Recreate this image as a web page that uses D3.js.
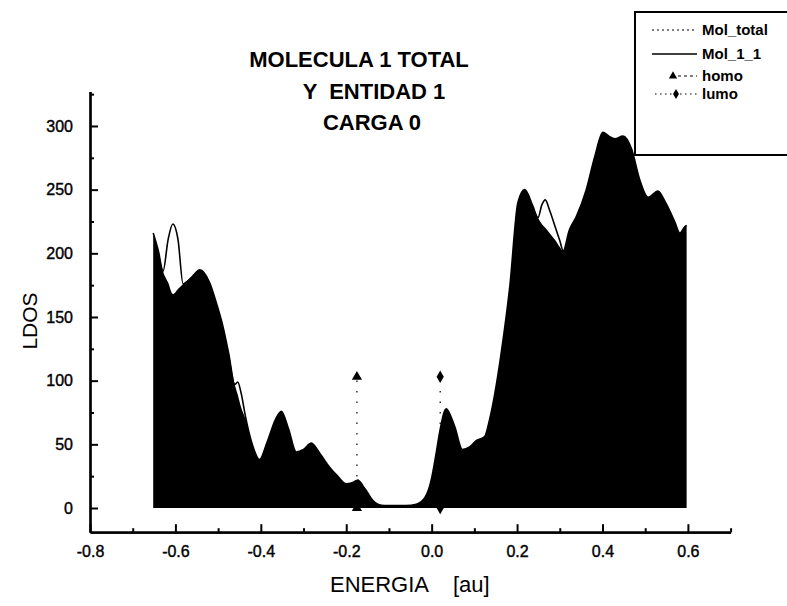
<!DOCTYPE html>
<html>
<head>
<meta charset="utf-8">
<script src="https://cdn.jsdelivr.net/npm/d3@7"></script>
<style>
  body { margin: 0; background: #fff; }
  svg { display: block; font-family: "Liberation Sans", Arial, sans-serif; }
</style>
</head>
<body>
<svg id="chart" width="787" height="606"></svg>
<script>
// Energy grid (au) and local density of states for each series
const energia = [-0.652, -0.640, -0.629, -0.617, -0.606, -0.594, -0.582, -0.560, -0.543, -0.520,
  -0.505, -0.489, -0.475, -0.461, -0.454, -0.446, -0.436, -0.420, -0.403, -0.385,
  -0.365, -0.352, -0.335, -0.317, -0.300, -0.282, -0.260, -0.239, -0.220, -0.200,
  -0.185, -0.173, -0.160, -0.150, -0.138, -0.126, -0.110, -0.060, -0.036, -0.016,
  -0.001, 0.010, 0.019, 0.034, 0.054, 0.072, 0.089, 0.105, 0.124, 0.136,
  0.148, 0.163, 0.183, 0.202, 0.218, 0.237, 0.249, 0.258, 0.266, 0.276,
  0.290, 0.300, 0.308, 0.322, 0.339, 0.362, 0.382, 0.401, 0.415, 0.429,
  0.448, 0.468, 0.487, 0.507, 0.530, 0.546, 0.569, 0.581, 0.593, 0.597];

const molTotal = [216, 202, 186, 177, 168, 172, 176, 182, 187, 177,
  162, 143, 121, 97, 89, 79, 70, 50, 38, 52,
  70, 76, 62, 44, 46, 51, 42, 32, 25, 19,
  20, 22, 17, 12, 6, 3, 2, 2, 3, 8,
  22, 42, 60, 78, 64, 46, 48, 53, 56, 70,
  90, 122, 174, 240, 250, 237, 228, 223, 220, 216,
  210, 205, 202, 218, 229, 250, 276, 295, 292, 290,
  292, 282, 258, 244, 249, 241, 225, 216, 221, 222];

const mol11 = [216, 202, 186, 211, 223, 211, 176, 182, 187, 177,
  162, 143, 121, 97, 99, 90, 72, 50, 38, 52,
  70, 76, 62, 44, 46, 51, 42, 32, 25, 19,
  20, 22, 17, 12, 6, 3, 2, 2, 3, 8,
  22, 42, 60, 78, 64, 46, 48, 53, 56, 70,
  90, 122, 174, 240, 250, 237, 228, 238, 242, 234,
  220, 210, 202, 218, 229, 250, 276, 295, 292, 290,
  292, 282, 258, 244, 249, 241, 225, 216, 221, 222];

// HOMO / LUMO levels: two points each (base and marker height)
const homoE = [-0.175, -0.175];
const homoV = [0, 103];
const lumoE = [0.02, 0.02];
const lumoV = [0, 103];

// Axis ticks and labels
const xMajor = [-0.8, -0.6, -0.4, -0.2, 0.0, 0.2, 0.4, 0.6];
const xLabels = ["-0.8", "-0.6", "-0.4", "-0.2", "0.0", "0.2", "0.4", "0.6"];
const xMinor = [-0.7, -0.5, -0.3, -0.1, 0.1, 0.3, 0.5, 0.7];
const yMajor = [0, 50, 100, 150, 200, 250, 300];
const yLabels = ["0", "50", "100", "150", "200", "250", "300"];
const yMinor = [25, 75, 125, 175, 225, 275, 325];

const titleLines = ["MOLECULA 1 TOTAL", "Y  ENTIDAD 1", "CARGA 0"];
const legendNames = ["Mol_total", "Mol_1_1", "homo", "lumo"];

const svg = d3.select("#chart");
const x = d3.scaleLinear().domain([-0.8, 0.7]).range([90, 730.6]);
const y = d3.scaleLinear().domain([-19, 327]).range([532.2, 91.6]);

const totalPts = energia.map((e, i) => [e, molTotal[i]]);
const mol11Pts = energia.map((e, i) => [e, mol11[i]]);

// Filled total LDOS
svg.append("path")
  .datum(totalPts)
  .attr("fill", "#000")
  .attr("d", d3.area().x(d => x(d[0])).y0(y(0)).y1(d => y(d[1])).curve(d3.curveMonotoneX));

// Entity LDOS outline
svg.append("path")
  .datum(mol11Pts)
  .attr("fill", "none")
  .attr("stroke", "#000")
  .attr("stroke-width", 1.6)
  .attr("d", d3.line().x(d => x(d[0])).y(d => y(d[1])).curve(d3.curveMonotoneX));

// HOMO and LUMO markers with dotted drop lines
const levels = [
  { e: homoE, v: homoV, sym: d3.symbolTriangle },
  { e: lumoE, v: lumoV, sym: d3.symbolDiamond }
];
levels.forEach(l => {
  const pts = l.e.map((e, i) => [e, l.v[i]]);
  svg.append("path")
    .datum(pts)
    .attr("fill", "none")
    .attr("stroke", "#000")
    .attr("stroke-width", 1.2)
    .attr("stroke-dasharray", "1.5,9")
    .attr("d", d3.line().x(d => x(d[0])).y(d => y(d[1])));
  svg.selectAll(null).data(pts).enter().append("path")
    .attr("transform", d => `translate(${x(d[0])},${y(d[1])})`)
    .attr("d", d3.symbol().type(l.sym).size(45))
    .attr("fill", "#000");
});

// Axes
const xAxis = svg.append("g").attr("transform", `translate(0,${y(-19)})`)
  .call(d3.axisBottom(x).tickValues(xMajor).tickSize(-8).tickSizeOuter(0).tickPadding(13)
    .tickFormat((d, i) => xLabels[i]));
const xAxisMinor = svg.append("g").attr("transform", `translate(0,${y(-19)})`)
  .call(d3.axisBottom(x).tickValues(xMinor).tickSize(-4).tickSizeOuter(0).tickFormat(""));
const yAxis = svg.append("g").attr("transform", `translate(${x(-0.8)},0)`)
  .call(d3.axisLeft(y).tickValues(yMajor).tickSize(-8).tickSizeOuter(0).tickPadding(17)
    .tickFormat((d, i) => yLabels[i]));
const yAxisMinor = svg.append("g").attr("transform", `translate(${x(-0.8)},0)`)
  .call(d3.axisLeft(y).tickValues(yMinor).tickSize(-4).tickSizeOuter(0).tickFormat(""));

[xAxis, xAxisMinor, yAxis, yAxisMinor].forEach(g => {
  g.selectAll("path.domain").attr("stroke", "#000").attr("stroke-width", 2.2);
  g.selectAll(".tick line").attr("stroke", "#000").attr("stroke-width", 2);
  g.selectAll(".tick text").attr("fill", "#000")
    .attr("stroke", "#000").attr("stroke-width", 0.4)
    .style("font-size", "16px")
    .style("font-family", "'Liberation Sans', Arial, sans-serif");
});

// Axis titles
svg.append("text")
  .attr("transform", "translate(37,321) rotate(-90)")
  .attr("text-anchor", "middle")
  .style("font-size", "21px")
  .text("LDOS");
svg.append("text").attr("x", 330).attr("y", 592).style("font-size", "22px").text("ENERGIA");
svg.append("text").attr("x", 453).attr("y", 592).style("font-size", "22px").text("[au]");

// Chart title
const titleX = [359, 374, 372];
const titleY = [67, 99, 130];
titleLines.forEach((t, i) => {
  svg.append("text")
    .attr("x", titleX[i]).attr("y", titleY[i])
    .attr("text-anchor", "middle")
    .style("font-size", "22px").style("font-weight", "bold")
    .style("white-space", "pre")
    .text(t);
});

// Legend
const lg = svg.append("g");
lg.append("rect").attr("x", 635).attr("y", 12).attr("width", 170).attr("height", 143)
  .attr("fill", "#fff").attr("stroke", "#000").attr("stroke-width", 2);
const rowY = [30, 54, 76, 94];
// Mol_total: dotted sample
lg.append("line").attr("x1", 652).attr("x2", 696).attr("y1", rowY[0]).attr("y2", rowY[0])
  .attr("stroke", "#000").attr("stroke-width", 1.2).attr("stroke-dasharray", "2,3");
// Mol_1_1: solid sample
lg.append("line").attr("x1", 652).attr("x2", 697).attr("y1", rowY[1]).attr("y2", rowY[1])
  .attr("stroke", "#000").attr("stroke-width", 1.6);
// homo: triangle with short dashes
lg.append("line").attr("x1", 678).attr("x2", 697).attr("y1", rowY[2]).attr("y2", rowY[2])
  .attr("stroke", "#000").attr("stroke-width", 1.2).attr("stroke-dasharray", "3,3");
lg.append("path").attr("transform", `translate(673,${rowY[2]})`)
  .attr("d", d3.symbol().type(d3.symbolTriangle).size(30)).attr("fill", "#000");
// lumo: diamond with dots
lg.append("line").attr("x1", 655).attr("x2", 697).attr("y1", rowY[3]).attr("y2", rowY[3])
  .attr("stroke", "#000").attr("stroke-width", 1.2).attr("stroke-dasharray", "1.5,3.5");
lg.append("path").attr("transform", `translate(676,${rowY[3]})`)
  .attr("d", d3.symbol().type(d3.symbolDiamond).size(30)).attr("fill", "#000");
legendNames.forEach((n, i) => {
  lg.append("text").attr("x", 702).attr("y", rowY[i]).attr("dy", "0.35em")
    .style("font-size", "15px").style("font-weight", "bold").text(n);
});
</script>
</body>
</html>
